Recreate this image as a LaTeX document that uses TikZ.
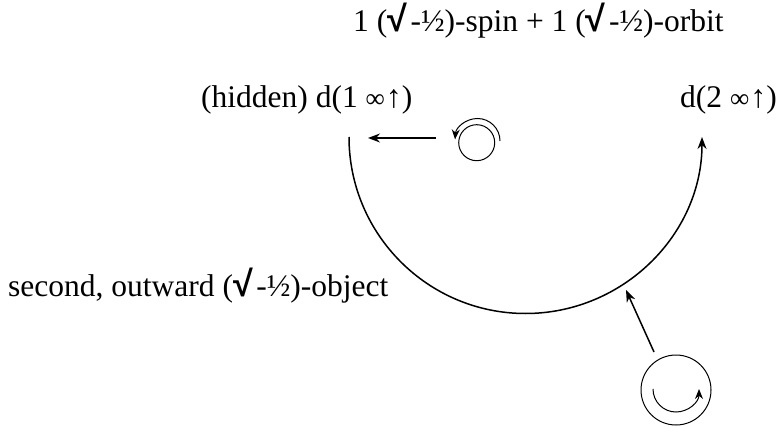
\documentclass[tikz,border=0pt]{standalone}
\usepackage{fontspec}
\usetikzlibrary{arrows.meta,positioning}
\setmainfont{Liberation Serif}
\newfontfamily\rootfont{Liberation Sans}
\newcommand{\rootsym}{{\rootfont\bfseries\fontsize{36}{36}\selectfont √}\hspace{3.5pt}}
\newcommand{\half}{-½}
\newcommand{\upinf}{{\fontsize{27}{27}\selectfont ∞\hspace{1pt}\fontsize{32}{32}\selectfont ↑}}

\begin{document}
\begin{tikzpicture}[
    x=1pt, y=-1pt,
    label/.style={anchor=base west, inner sep=0pt, font=\fontsize{31.5}{34}\selectfont},
    flow/.style={-{Stealth[length=12pt,width=9pt]}, line width=1.5pt, black},
    spin/.style={-{Stealth[length=10pt,width=8pt]}, line width=1pt, black},
    ring/.style={circle, draw, inner sep=0pt, line width=1pt}
]
\useasboundingbox (0,0) rectangle (778,427);

% Labels
\node[label] (pair) at (353,32) {1 (\rootsym\half)-spin + 1 (\rootsym\half)-orbit};
\node[label] (hidden) at (201,108) {(hidden) d(1 \upinf)};
\node[label] (second) at (680,108) {d(2 \upinf)};
\node[label] (outward) at (8,296) {second, outward (\rootsym\half)-object};

% Upper ring
\node[ring, minimum size=36pt] (upper) at (476.7,142.7) {};
\coordinate (upperstart) at (500,141);
\draw[spin] (upperstart) arc (0:-176:22.5);
\coordinate (upperout) at (436,138);
\coordinate (uppertip) at (368,138);
\draw[flow] (upperout) -- (uppertip);

% Main arc
\coordinate (arcstart) at (349,137);
\draw[flow] (arcstart) arc (180:0:176.5);

% Lower ring
\node[ring, minimum size=70pt] (lower) at (676,390) {};
\coordinate (lowerstart) at (653,389);
\draw[spin] (lowerstart) arc (180:0:23);
\coordinate (lowerout) at (654,352);
\coordinate (lowertip) at (626,290);
\draw[flow] (lowerout) -- (lowertip);

\end{tikzpicture}
\end{document}
